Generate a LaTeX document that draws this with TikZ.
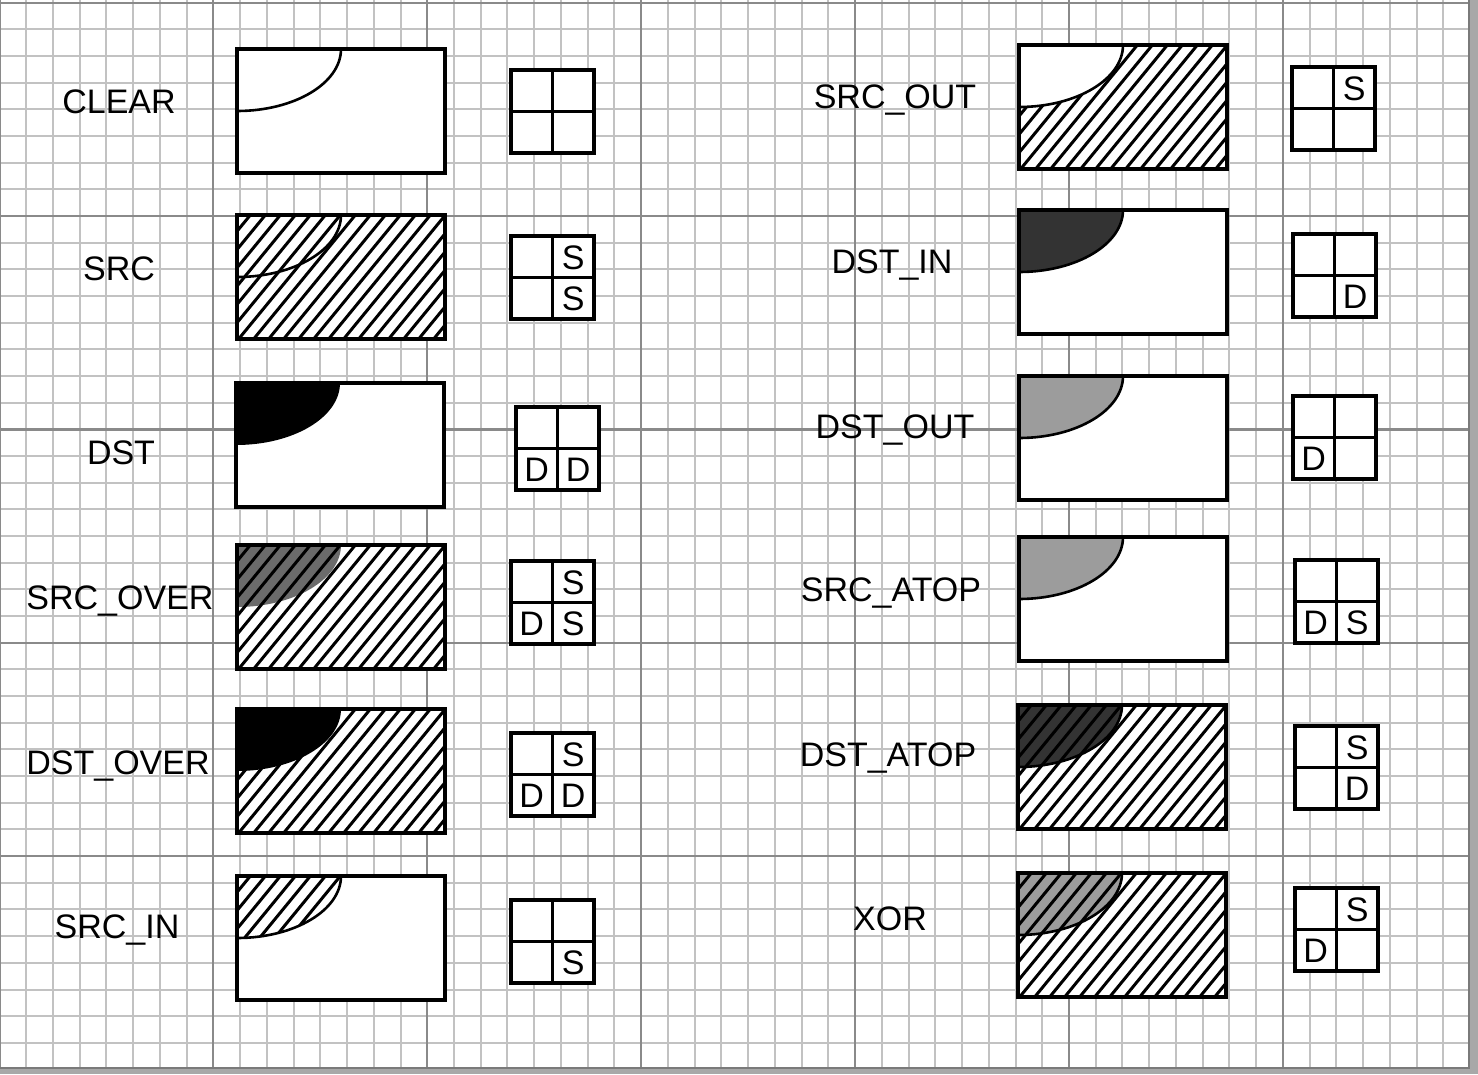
\documentclass[tikz,border=0pt]{standalone}
\usepackage{fontspec}
\setmainfont{Liberation Sans}
\definecolor{fineline}{HTML}{C2C2C2}
\definecolor{majorline}{HTML}{8A8A8A}
\definecolor{midgray}{HTML}{6B6B6B}
\definecolor{darkfill}{HTML}{333333}
\definecolor{lightfill}{HTML}{9C9C9C}
\definecolor{shadowdark}{HTML}{7A7A7A}
\definecolor{shadowlight}{HTML}{A8A8A8}
\tikzset{
  finegrid/.style={draw=fineline, line width=2pt},
  majorgrid/.style={draw=majorline, line width=2.2pt},
  boxframe/.style={draw=black, line width=3.6pt},
  hatchline/.style={draw=black, line width=3pt},
  curveline/.style={draw=black, line width=2.6pt},
  cellbox/.style={draw=black, line width=3.6pt, fill=white},
  crossline/.style={draw=black, line width=3.4pt},
  opname/.style={font=\fontsize{34}{40}\selectfont, inner sep=0pt, anchor=base},
  cellletter/.style={font=\fontsize{34}{40}\selectfont, inner sep=0pt},
}
% white rectangle of a picture
\newcommand\whiterect[2]{\fill[white] (#1,#2) rectangle ({#1+208},{#2+124});}
% border of a picture
\newcommand\borderrect[2]{\draw[boxframe] (#1,#2) rectangle ({#1+208},{#2+124});}
% filled quarter ellipse at the top left corner
\newcommand\fillquarter[3]{\fill[#3] (#1,#2) -- ({#1+104},#2) .. controls ({#1+104},{#2+34.3}) and ({#1+57.4},{#2+62}) .. (#1,{#2+62}) -- cycle;}
% outline of the quarter ellipse
\newcommand\curveq[2]{\draw[curveline] ({#1+104},#2) .. controls ({#1+104},{#2+34.3}) and ({#1+57.4},{#2+62}) .. (#1,{#2+62});}
% hatch lines over the whole picture area (to be clipped)
\newcommand\hatchlines[2]{\foreach \k in {-8,...,15}{\draw[hatchline] ({#1+15*\k},{#2+126}) -- ({#1+15*\k+105},{#2-2});}}
\newcommand\hatchfull[2]{\begin{scope}\clip (#1,#2) rectangle ({#1+208},{#2+124}); \hatchlines{#1}{#2}\end{scope}}
\newcommand\hatchquarter[2]{\begin{scope}\clip (#1,#2) -- ({#1+104},#2) .. controls ({#1+104},{#2+34.3}) and ({#1+57.4},{#2+62}) .. (#1,{#2+62}) -- cycle; \hatchlines{#1}{#2}\end{scope}}
% 2x2 cell grid
\newcommand\cellgrid[2]{\draw[cellbox] (#1,#2) rectangle ({#1+83},{#2+83});
  \draw[crossline] ({#1+41.5},#2) -- ({#1+41.5},{#2+83}) (#1,{#2+41.5}) -- ({#1+83},{#2+41.5});}
\begin{document}
\begin{tikzpicture}[x=1pt,y=-1pt]
\useasboundingbox (0,0) rectangle (1478,1074);
\fill[white] (0,0) rectangle (1478,1074);
% background grid
\foreach \k in {0,...,55}{\draw[finegrid] ({-0.6+26.74*\k},0) -- ({-0.6+26.74*\k},1074);}
\foreach \k in {0,...,40}{\draw[finegrid] (0,{2.7+26.67*\k}) -- (1478,{2.7+26.67*\k});}
\foreach \k in {0,...,6}{\draw[majorgrid] ({-0.6+213.9*\k},0) -- ({-0.6+213.9*\k},1074);}
\foreach \k in {0,...,5}{\draw[majorgrid] (0,{2.7+213.36*\k}) -- (1478,{2.7+213.36*\k});}

% ---------- left column ----------
% CLEAR
\whiterect{237}{49}\curveq{237}{49}\borderrect{237}{49}
% SRC
\whiterect{237}{215}\hatchfull{237}{215}\curveq{237}{215}\borderrect{237}{215}
% DST
\whiterect{236}{383}\fillquarter{236}{383}{black}\borderrect{236}{383}
% SRC_OVER
\whiterect{237}{545}\fillquarter{237}{545}{midgray}\hatchfull{237}{545}\borderrect{237}{545}
% DST_OVER
\whiterect{237}{709}\hatchfull{237}{709}\fillquarter{237}{709}{black}\borderrect{237}{709}
% SRC_IN
\whiterect{237}{876}\hatchquarter{237}{876}\curveq{237}{876}\borderrect{237}{876}

% ---------- right column ----------
% SRC_OUT
\whiterect{1019}{45}\hatchfull{1019}{45}\fillquarter{1019}{45}{white}\curveq{1019}{45}\borderrect{1019}{45}
% DST_IN
\whiterect{1019}{210}\fillquarter{1019}{210}{darkfill}\curveq{1019}{210}\borderrect{1019}{210}
% DST_OUT
\whiterect{1019}{376}\fillquarter{1019}{376}{lightfill}\curveq{1019}{376}\borderrect{1019}{376}
% SRC_ATOP
\whiterect{1019}{537}\fillquarter{1019}{537}{lightfill}\curveq{1019}{537}\borderrect{1019}{537}
% DST_ATOP
\whiterect{1018}{705}\fillquarter{1018}{705}{darkfill}\hatchfull{1018}{705}\curveq{1018}{705}\borderrect{1018}{705}
% XOR
\whiterect{1018}{873}\fillquarter{1018}{873}{lightfill}\hatchfull{1018}{873}\curveq{1018}{873}\borderrect{1018}{873}

% ---------- labels ----------
\node[opname] (lclear)   at (119,113) {CLEAR};
\node[opname] (lsrc)     at (119,280) {SRC};
\node[opname] (ldst)     at (121,464) {DST};
\node[opname] (lsrcover) at (120,609) {SRC\_OVER};
\node[opname] (ldstover) at (118,774) {DST\_OVER};
\node[opname] (lsrcin)   at (117,938) {SRC\_IN};
\node[opname] (lsrcout)  at (895,108) {SRC\_OUT};
\node[opname] (ldstin)   at (892,273) {DST\_IN};
\node[opname] (ldstout)  at (895,438) {DST\_OUT};
\node[opname] (lsrcatop) at (891,601) {SRC\_ATOP};
\node[opname] (ldstatop) at (888,766) {DST\_ATOP};
\node[opname] (lxor)     at (890,930) {XOR};

% ---------- cell grids ----------
% CLEAR
\cellgrid{511}{70}
% SRC
\cellgrid{511}{236}
\node[cellletter] (srctr) at (573.25,257.5) {S};
\node[cellletter] (srcbr) at (573.25,299) {S};
% DST
\cellgrid{516}{407}
\node[cellletter] (dstbl) at (536.75,470) {D};
\node[cellletter] (dstbr) at (578.25,470) {D};
% SRC_OVER
\cellgrid{511}{561}
\node[cellletter] (sovtr) at (573.25,582.5) {S};
\node[cellletter] (sovbl) at (531.75,624) {D};
\node[cellletter] (sovbr) at (573.25,624) {S};
% DST_OVER
\cellgrid{511}{733}
\node[cellletter] (dovtr) at (573.25,754.5) {S};
\node[cellletter] (dovbl) at (531.75,796) {D};
\node[cellletter] (dovbr) at (573.25,796) {D};
% SRC_IN
\cellgrid{511}{900}
\node[cellletter] (sinbr) at (573.25,963) {S};
% SRC_OUT
\cellgrid{1292}{67}
\node[cellletter] (souttr) at (1354.25,88.5) {S};
% DST_IN
\cellgrid{1293}{234}
\node[cellletter] (dinbr) at (1355.25,297) {D};
% DST_OUT
\cellgrid{1293}{396}
\node[cellletter] (doutbl) at (1313.75,459) {D};
% SRC_ATOP
\cellgrid{1295}{560}
\node[cellletter] (satbl) at (1315.75,623) {D};
\node[cellletter] (satbr) at (1357.25,623) {S};
% DST_ATOP
\cellgrid{1295}{726}
\node[cellletter] (dattr) at (1357.25,747.5) {S};
\node[cellletter] (datbr) at (1357.25,789) {D};
% XOR
\cellgrid{1295}{888}
\node[cellletter] (xortr) at (1357.25,909.5) {S};
\node[cellletter] (xorbl) at (1315.75,951) {D};

% ---------- page shadow ----------
\fill[shadowlight] (1469,0) rectangle (1478,1074);
\fill[shadowlight] (0,1068) rectangle (1478,1074);
\draw[shadowdark, line width=2pt] (1469,0) -- (1469,1068) -- (0,1068);
\end{tikzpicture}
\end{document}
